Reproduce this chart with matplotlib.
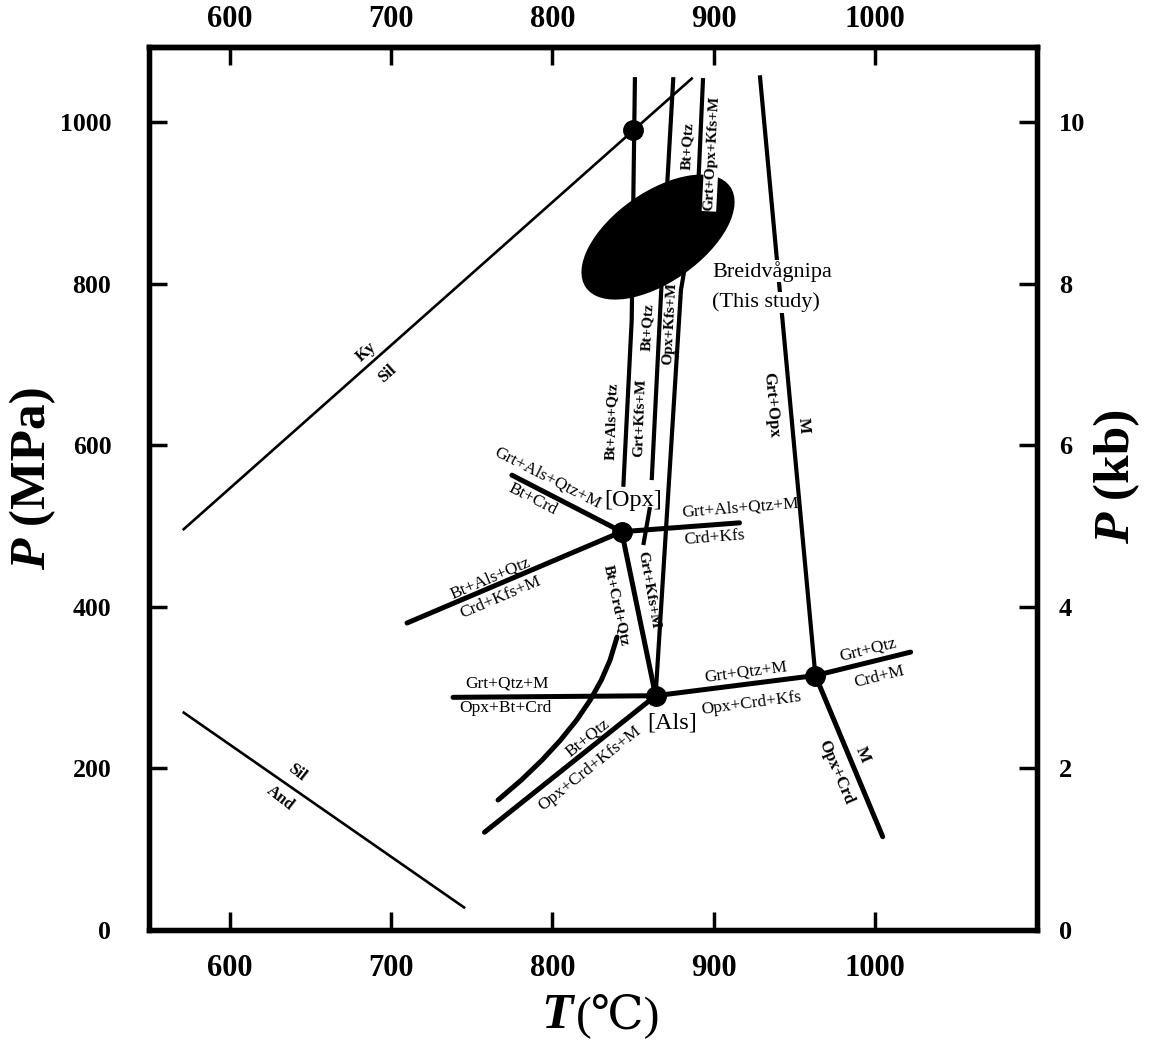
import matplotlib
matplotlib.use('Agg')
import matplotlib.pyplot as plt
from matplotlib.patches import Ellipse
from matplotlib.transforms import ScaledTranslation

plt.rcParams['font.family'] = ['Liberation Serif', 'DejaVu Serif', 'DejaVu Sans']

# ---------------- axes ----------------
T_LIM = (550, 1100)
P_LIM = (0, 1093)
T_TICKS = [600, 700, 800, 900, 1000]
P_TICKS = [0, 200, 400, 600, 800, 1000]
KB_TICKS = [0, 2, 4, 6, 8, 10]

# ---------------- data (T in C, P in MPa) ----------------
# invariant points: Ky/Sil crossing, [Opx], [Als], M point
inv_T = [850, 843, 864, 963]
inv_P = [990, 493, 290, 315]

# aluminosilicate lines
kysil_T = [571, 887]
kysil_P = [495, 1055]
siland_T = [571, 746]
siland_P = [270, 27]

# reactions around [Opx]
opx_ul_T = [775, 843]
opx_ul_P = [563, 493]
opx_ll_T = [710, 843]
opx_ll_P = [380, 493]
opx_r_T = [843, 916]
opx_r_P = [493, 504]
opx_als_T = [843, 864]
opx_als_P = [493, 290]

# reactions around [Als]
als_l_T = [738.5, 864]
als_l_P = [288, 290]
als_ll_T = [758, 864]
als_ll_P = [121, 290]
als_r_T = [864, 963]
als_r_P = [290, 315]

# reactions around the high-T point
m_T = [928.6, 963]
m_P = [1058, 315]
hr_T = [963, 1022]
hr_P = [315, 344]
hl_T = [963, 1004.7]
hl_P = [315, 115.5]

# curved line
curve_T = [766.4, 780.8, 793.7, 805.1, 815.1, 823.5, 830.4, 835.8, 840.1]
curve_P = [160.9, 185.6, 210.4, 235.1, 259.9, 284.7, 309.4, 334.2, 362.6]

# steep lines
la_T = [851.2, 849.2, 844.0]
la_P = [1055.7, 755.0, 548.6]
lb1_T = [875.0, 867.8, 861.6]
lb1_P = [1055.7, 804.5, 556.9]
lb2_T = [860.5, 856.4]
lb2_P = [523.5, 476.5]
lc_T = [864, 879.7, 890.3, 893.4]
lc_P = [290, 792, 916, 1054.5]

# PT field of this study (ellipse)
ell_T, ell_P = 865.5, 857.7

# labels: text, T, P, rotation, size, weight
labels = [
    ("Ky", 684.6, 715.3, 42, 12, 'bold'),
    ("Sil", 697.6, 688.1, 42, 12, 'bold'),
    ("Sil", 641.8, 194.3, -38, 12, 'bold'),
    ("And", 631.3, 163.4, -38, 12, 'bold'),
    ("Bt+Qtz", 884.1, 970.3, 87, 11, 'bold'),
    ("Bt+Qtz", 859.3, 746.3, 87, 11, 'bold'),
    ("Opx+Kfs+M", 872.9, 751.2, 87, 11, 'bold'),
    ("Bt+Als+Qtz", 837.0, 629.9, 88, 11, 'bold'),
    ("Grt+Kfs+M", 854.3, 633.7, 88, 11, 'bold'),
    ("Bt+Crd+Qtz", 840.1, 402.2, -78, 11, 'bold'),
    ("Grt+Kfs+M", 859.3, 420.8, -80, 11, 'bold'),
    ("Grt+Opx", 935.5, 649.8, -85, 12, 'bold'),
    ("M", 955.3, 625.0, -85, 12, 'bold'),
    ("Grt+Qtz", 995.6, 346.5, 14, 12.5, 'normal'),
    ("Crd+M", 1002.4, 313.1, 14, 12.5, 'normal'),
    ("Opx+Crd", 975.8, 195.5, -67, 12, 'bold'),
    ("M", 992.5, 216.6, -67, 12, 'bold'),
    ("Grt+Qtz+M", 920.0, 319.3, 7.5, 12.5, 'normal'),
    ("Opx+Crd+Kfs", 923.1, 280.9, 7.5, 12.5, 'normal'),
    ("Grt+Qtz+M", 771.9, 305.7, 0, 12.5, 'normal'),
    ("Opx+Bt+Crd", 770.7, 274.8, 0, 12.5, 'normal'),
    ("Bt+Qtz", 822.1, 237.6, 38.5, 12.5, 'normal'),
    ("Opx+Crd+Kfs+M", 823.4, 200.5, 38.5, 12.5, 'normal'),
    ("Grt+Als+Qtz+M", 797.3, 559.4, -27, 12.5, 'normal'),
    ("Bt+Crd", 788.0, 533.4, -27, 12.5, 'normal'),
    ("Bt+Als+Qtz", 761.4, 435.6, 23, 12.5, 'normal'),
    ("Crd+Kfs+M", 768.2, 412.1, 23, 12.5, 'normal'),
    ("Grt+Als+Qtz+M", 916.3, 522.3, 4.5, 12.5, 'normal'),
    ("Crd+Kfs", 900.2, 485.1, 4.5, 12.5, 'normal'),
    ("[Opx]", 850.0, 532.2, 0, 17.5, 'normal'),
    ("[Als]", 874.2, 256.2, 0, 17.5, 'normal'),
]

W, H = 1152, 1041
fig = plt.figure(figsize=(W / 100, H / 100), dpi=100)
ax = fig.add_axes([148.8 / W, 1 - 930 / H, (1036.5 - 148.8) / W, (930 - 47) / H])
ax.set_xlim(*T_LIM)
ax.set_ylim(*P_LIM)

thin = dict(color='black', lw=1.9, solid_capstyle='butt', zorder=2)
thick = dict(color='black', lw=3.6, solid_capstyle='round', solid_joinstyle='round', zorder=2)
mid = dict(color='black', lw=3.0, solid_capstyle='butt', zorder=2)

ax.plot(kysil_T, kysil_P, **thin)
ax.plot(siland_T, siland_P, **thin)
for xs, ys in [(opx_ul_T, opx_ul_P), (opx_ll_T, opx_ll_P), (opx_r_T, opx_r_P),
               (opx_als_T, opx_als_P), (als_l_T, als_l_P), (als_ll_T, als_ll_P),
               (als_r_T, als_r_P), (hr_T, hr_P), (hl_T, hl_P), (curve_T, curve_P)]:
    ax.plot(xs, ys, **thick)
for xs, ys in [(la_T, la_P), (lb1_T, lb1_P), (lb2_T, lb2_P), (lc_T, lc_P), (m_T, m_P)]:
    ax.plot(xs, ys, **mid)

ax.plot(inv_T, inv_P, 'o', color='black', ms=14, zorder=6)

ell = Ellipse((0, 0), 1.76, 0.90, angle=35, facecolor='black', edgecolor='none',
              transform=fig.dpi_scale_trans + ScaledTranslation(ell_T, ell_P, ax.transData),
              zorder=4)
ax.add_patch(ell)

for s, t, p, rot, size, wt in labels:
    ax.text(t, p, s, rotation=rot, rotation_mode='anchor', ha='center', va='center',
            fontsize=size, fontweight=wt, zorder=5)

ax.text(898.9, 961.6, "Grt+Opx+Kfs+M", rotation=87, rotation_mode='anchor',
        ha='center', va='center', fontsize=11, fontweight='bold', zorder=5,
        bbox=dict(facecolor='white', edgecolor='none', pad=0.5))
ax.text(898.9, 815.6, "Breidvågnipa", ha='left', va='center', fontsize=16, zorder=3,
        bbox=dict(facecolor='white', edgecolor='none', pad=0.5))
ax.text(898.9, 777.2, "(This study)", ha='left', va='center', fontsize=16, zorder=3,
        bbox=dict(facecolor='white', edgecolor='none', pad=0.5))

# ticks
ax.set_xticks(T_TICKS)
ax.set_xticklabels([str(v) for v in T_TICKS])
ax.set_yticks(P_TICKS)
ax.set_yticklabels([str(v) for v in P_TICKS])
ax.tick_params(axis='x', which='both', direction='in', length=13, width=2.5,
               top=False, labeltop=False, labelsize=22, pad=17)
ax.tick_params(axis='y', which='both', direction='in', length=13, width=2.5,
               right=False, labelsize=18.5, pad=27)
for lab in ax.get_xticklabels() + ax.get_yticklabels():
    lab.set_fontweight('bold')

top = ax.secondary_xaxis('top')
top.set_xticks(T_TICKS)
top.set_xticklabels([str(v) for v in T_TICKS])
top.tick_params(axis='x', direction='in', length=13, width=2.5, labelsize=22, pad=9)
for lab in top.get_xticklabels():
    lab.set_fontweight('bold')

ax2 = ax.twinx()
ax2.set_ylim(P_LIM[0] / 100, P_LIM[1] / 100)
ax2.set_yticks(KB_TICKS)
ax2.set_yticklabels([str(v) for v in KB_TICKS])
ax2.tick_params(axis='y', direction='in', length=13, width=2.5, labelsize=19, pad=16)
for lab in ax2.get_yticklabels():
    lab.set_fontweight('bold')

for a in (ax, ax2):
    for sp in a.spines.values():
        sp.set_linewidth(3.8)
for sp in top.spines.values():
    sp.set_linewidth(3.8)

# axis titles
def fx(x):
    return x / W

def fy(y):
    return 1 - y / H

lab_kw = dict(fontsize=37, fontweight='bold', rotation=90, rotation_mode='anchor', va='center')
fig.text(fx(33), fy(539), "P", style='italic', ha='right', **lab_kw)
fig.text(fx(33), fy(539), " (MPa)", ha='left', **lab_kw)
fig.text(fx(1117), fy(513), "P", style='italic', ha='right', **lab_kw)
fig.text(fx(1117), fy(513), " (kb)", ha='left', **lab_kw)

fig.text(fx(573), fy(1028), "T", style='italic', fontweight='bold', fontsize=37,
         ha='right', va='baseline')
fig.text(fx(576), fy(1028), "(℃)", fontweight='normal', fontsize=34,
         ha='left', va='baseline')

fig.savefig('out.png', dpi=100)
